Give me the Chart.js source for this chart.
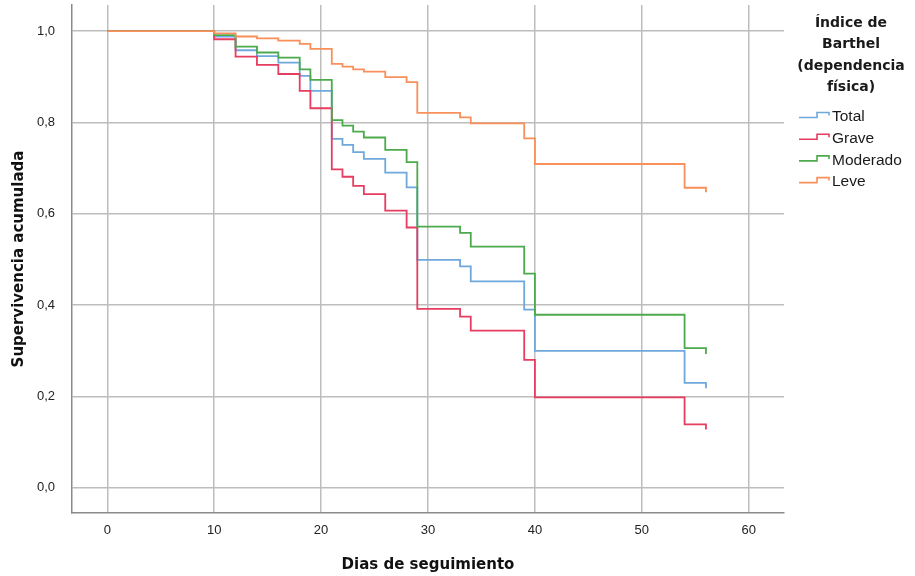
<!DOCTYPE html>
<html>
<head>
<meta charset="utf-8">
<script src="https://cdn.jsdelivr.net/npm/chart.js@4.4.1/dist/chart.umd.min.js"></script>
<style>
  html, body { margin: 0; padding: 0; background: #ffffff; }
  #wrap { width: 915px; height: 576px; }
</style>
</head>
<body>
<div id="wrap"><canvas id="c" width="915" height="576"></canvas></div>
<script>
// Days at which the survival curves step (shared by all groups)
const days = [0, 10, 12, 14, 16, 18, 19, 21, 22, 23, 24, 26, 28, 29, 33, 34, 39, 40, 54, 56];

// Cumulative survival after each step
const survTotal    = [1.0, 0.988, 0.958, 0.945, 0.931, 0.902, 0.869, 0.764, 0.751, 0.735, 0.720, 0.690, 0.658, 0.499, 0.485, 0.452, 0.390, 0.300, 0.230, 0.218];
const survGrave    = [1.0, 0.982, 0.944, 0.926, 0.906, 0.869, 0.831, 0.697, 0.681, 0.661, 0.643, 0.607, 0.570, 0.392, 0.375, 0.344, 0.280, 0.198, 0.139, 0.128];
const survModerado = [1.0, 0.991, 0.966, 0.953, 0.942, 0.916, 0.893, 0.805, 0.793, 0.780, 0.767, 0.740, 0.713, 0.572, 0.558, 0.528, 0.469, 0.379, 0.306, 0.293];
const survLeve     = [1.0, 0.995, 0.988, 0.984, 0.979, 0.972, 0.961, 0.928, 0.922, 0.916, 0.911, 0.899, 0.888, 0.821, 0.811, 0.798, 0.765, 0.709, 0.657, 0.647];

const groupLabels = ['Total', 'Grave', 'Moderado', 'Leve'];
const legendTitle = ['Índice de', 'Barthel', '(dependencia', 'física)'];

const xTickValues = [0, 10, 20, 30, 40, 50, 60];
const yTickValues = [0.0, 0.2, 0.4, 0.6, 0.8, 1.0];

const xTitle = 'Dias de seguimiento';
const yTitle = 'Supervivencia acumulada';

const colors = ['#6fa8dc', '#e63d60', '#4caa4c', '#f7905a'];

function toPoints(vals) {
  return days.map((d, i) => ({ x: d, y: vals[i] }));
}

const seriesValues = [survTotal, survGrave, survModerado, survLeve];
const drawOrder = [3, 2, 1, 0];

const datasets = groupLabels.map((lab, i) => ({
  label: lab,
  data: toPoints(seriesValues[i]),
  borderColor: colors[i],
  backgroundColor: colors[i],
  borderWidth: 1.8,
  pointRadius: 0,
  pointHoverRadius: 0,
  stepped: true,
  fill: false,
  order: drawOrder[i]
}));

const legendPlugin = {
  id: 'kmLegend',
  afterDraw(chart) {
    const ctx = chart.ctx;
    ctx.save();
    const cx = 851;
    ctx.fillStyle = '#1a1a1a';
    ctx.textAlign = 'center';
    ctx.textBaseline = 'middle';
    ctx.font = 'bold 14px "DejaVu Sans"';
    legendTitle.forEach((t, i) => {
      ctx.fillText(t, cx, 23 + i * 21.5);
    });
    ctx.font = '15.5px "Liberation Sans", Arial, sans-serif';
    ctx.textAlign = 'left';
    chart.data.datasets.forEach((ds, i) => {
      const cy = 116 + i * 21.7;
      ctx.strokeStyle = ds.borderColor;
      ctx.lineWidth = 1.6;
      ctx.beginPath();
      ctx.moveTo(799, cy + 1.5);
      ctx.lineTo(817, cy + 1.5);
      ctx.lineTo(817, cy - 3.5);
      ctx.lineTo(829, cy - 3.5);
      ctx.lineTo(829, cy - 0.5);
      ctx.stroke();
      ctx.fillStyle = '#1a1a1a';
      ctx.fillText(ds.label, 832, cy + 1);
    });
    ctx.restore();
  }
};

new Chart(document.getElementById('c'), {
  type: 'line',
  data: { datasets },
  options: {
    responsive: false,
    devicePixelRatio: 1,
    animation: false,
    events: [],
    layout: { padding: { left: 0, top: 5, right: 131, bottom: 0 } },
    plugins: {
      legend: { display: false },
      tooltip: { enabled: false },
      title: { display: false }
    },
    scales: {
      x: {
        type: 'linear',
        min: -3.3,
        max: 63.3,
        afterFit(scale) {
          scale.height = 63;
          scale.paddingLeft = 0;
          scale.paddingRight = 0;
        },
        afterBuildTicks(scale) { scale.ticks = xTickValues.map(v => ({ value: v })); },
        grid: { color: '#bdbdbd', lineWidth: 1.5, drawTicks: false },
        border: { display: true, color: '#8a8a8a', width: 1.5 },
        ticks: {
          padding: 10,
          color: '#222',
          font: { family: '"Liberation Sans", Arial, sans-serif', size: 13 },
          maxRotation: 0,
          callback: v => String(v)
        },
        title: {
          display: true,
          text: xTitle,
          color: '#111',
          font: { family: '"DejaVu Sans"', size: 15, weight: 'bold' },
          padding: { top: 4, bottom: 2 }
        }
      },
      y: {
        type: 'linear',
        min: -0.055,
        max: 1.057,
        afterFit(scale) {
          scale.width = 72;
          scale.paddingTop = 0;
          scale.paddingBottom = 0;
        },
        afterBuildTicks(scale) { scale.ticks = yTickValues.map(v => ({ value: v })); },
        grid: { color: '#bdbdbd', lineWidth: 1.5, drawTicks: false },
        border: { display: true, color: '#8a8a8a', width: 1.5 },
        ticks: {
          padding: 17,
          color: '#222',
          font: { family: '"Liberation Sans", Arial, sans-serif', size: 13 },
          callback: v => Number(v).toFixed(1).replace('.', ',')
        },
        title: {
          display: true,
          text: yTitle,
          color: '#111',
          font: { family: '"DejaVu Sans"', size: 15, weight: 'bold' },
          padding: { top: 10, bottom: 4 }
        }
      }
    }
  },
  plugins: [legendPlugin]
});
</script>
</body>
</html>
